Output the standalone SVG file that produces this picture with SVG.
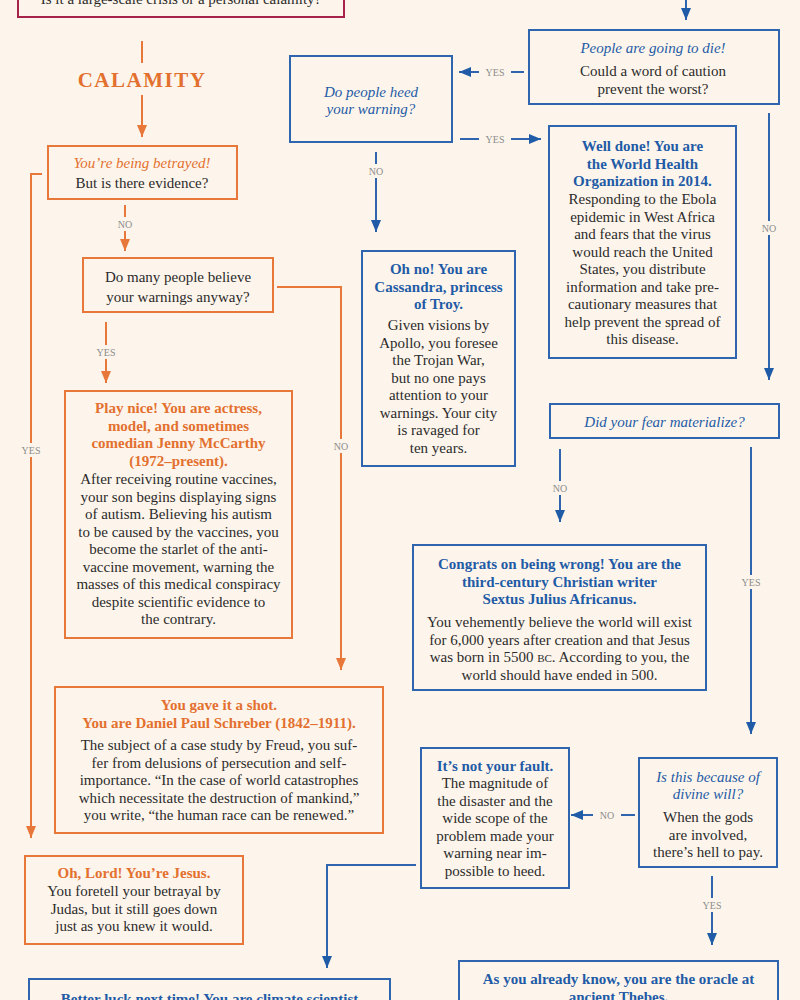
<svg xmlns="http://www.w3.org/2000/svg" width="800" height="1000" viewBox="0 0 800 1000">
<defs>
<style>
text{font-family:"Liberation Serif","Times New Roman",serif;text-anchor:middle}
.b{font-size:15px;fill:#2b2b2b}
.to{font-size:15px;font-weight:bold;fill:#E3702F}
.tb{font-size:15px;font-weight:bold;fill:#1F5BA6}
.io{font-size:15px;font-style:italic;fill:#E3702F}
.ib{font-size:15px;font-style:italic;fill:#1F5BA6}
.lbl{font-size:10px;fill:#8c8c8c}
.bo{fill:none;stroke:#E8773A;stroke-width:2}
.bb{fill:none;stroke:#2F65AF;stroke-width:2}
.co{fill:none;stroke:#E8773A;stroke-width:2}
.cb{fill:none;stroke:#2F65AF;stroke-width:2}
.lb{fill:#FDF5EB}
</style>
<marker id="ao" viewBox="0 0 12 10" refX="12" refY="5" markerWidth="12" markerHeight="10" markerUnits="userSpaceOnUse" orient="auto"><path d="M0,0 L12,5 L0,10 z" fill="#E8773A"/></marker>
<marker id="ab" viewBox="0 0 12 10" refX="12" refY="5" markerWidth="12" markerHeight="10" markerUnits="userSpaceOnUse" orient="auto"><path d="M0,0 L12,5 L0,10 z" fill="#1F5BA6"/></marker>
</defs>
<rect x="0" y="0" width="800" height="1000" fill="#FDF5EB"/>

<g id="connectors">
<path class="cb" d="M686,0 V20" marker-end="url(#ab)"/>
<path class="co" d="M142,41 V63"/>
<path class="co" d="M142,95 V137" marker-end="url(#ao)"/>
<path class="co" d="M42,174 H31 V838" marker-end="url(#ao)"/>
<path class="co" d="M125,205 V251" marker-end="url(#ao)"/>
<path class="co" d="M277,287 H341 V670" marker-end="url(#ao)"/>
<path class="co" d="M106,322 V383" marker-end="url(#ao)"/>
<path class="cb" d="M524,72 H459" marker-end="url(#ab)"/>
<path class="cb" d="M460,139 H541" marker-end="url(#ab)"/>
<path class="cb" d="M376,152 V232" marker-end="url(#ab)"/>
<path class="cb" d="M769,113 V380" marker-end="url(#ab)"/>
<path class="cb" d="M560,449 V522" marker-end="url(#ab)"/>
<path class="cb" d="M751,447 V734" marker-end="url(#ab)"/>
<path class="cb" d="M635,815 H571" marker-end="url(#ab)"/>
<path class="cb" d="M712,876 V945" marker-end="url(#ab)"/>
<path class="cb" d="M416,865 H327 V968" marker-end="url(#ab)"/>

<rect class="lb" x="17" y="443" width="28" height="14"/><text class="lbl" x="31" y="454">YES</text>
<rect class="lb" x="112" y="217" width="26" height="14"/><text class="lbl" x="125" y="228">NO</text>
<rect class="lb" x="327" y="439" width="28" height="14"/><text class="lbl" x="341" y="450">NO</text>
<rect class="lb" x="92" y="345" width="28" height="14"/><text class="lbl" x="106" y="356">YES</text>
<rect class="lb" x="479" y="65" width="32" height="14"/><text class="lbl" x="495" y="76">YES</text>
<rect class="lb" x="479" y="132" width="32" height="14"/><text class="lbl" x="495" y="143">YES</text>
<rect class="lb" x="363" y="164" width="26" height="14"/><text class="lbl" x="376" y="175">NO</text>
<rect class="lb" x="756" y="221" width="26" height="14"/><text class="lbl" x="769" y="232">NO</text>
<rect class="lb" x="547" y="481" width="26" height="14"/><text class="lbl" x="560" y="492">NO</text>
<rect class="lb" x="737" y="575" width="28" height="14"/><text class="lbl" x="751" y="586">YES</text>
<rect class="lb" x="593" y="808" width="28" height="14"/><text class="lbl" x="607" y="819">NO</text>
<rect class="lb" x="698" y="898" width="28" height="14"/><text class="lbl" x="712" y="909">YES</text>
</g>

<g id="start">
<rect x="18" y="-10" width="326" height="27" fill="none" stroke="#A8234A" stroke-width="2"/>
<text class="b" x="181" y="4" font-size="16">Is it a large-scale crisis or a personal calamity?</text>
</g>

<g id="calamity">
<text x="142" y="87" font-size="21" font-weight="bold" fill="#E3702F" letter-spacing="1.5">CALAMITY</text>
</g>

<g id="betrayed">
<rect class="bo" x="48" y="146" width="189" height="53"/>
<text class="io" x="142" y="168">You’re being betrayed!</text>
<text class="b" x="142" y="188">But is there evidence?</text>
</g>

<g id="believe">
<rect class="bo" x="83" y="258" width="190" height="54"/>
<text class="b" x="178" y="282">Do many people believe</text>
<text class="b" x="178" y="302">your warnings anyway?</text>
</g>

<g id="mccarthy">
<rect class="bo" x="65" y="391" width="227" height="247"/>
<text class="to" x="178.5" y="413">Play nice! You are actress,</text>
<text class="to" x="178.5" y="430.5">model, and sometimes</text>
<text class="to" x="178.5" y="448">comedian Jenny McCarthy</text>
<text class="to" x="178.5" y="465.5">(1972–present).</text>
<text class="b" x="178.5" y="484">After receiving routine vaccines,</text>
<text class="b" x="178.5" y="501.5">your son begins displaying signs</text>
<text class="b" x="178.5" y="519">of autism. Believing his autism</text>
<text class="b" x="178.5" y="536.5">to be caused by the vaccines, you</text>
<text class="b" x="178.5" y="554">become the starlet of the anti-</text>
<text class="b" x="178.5" y="571.5">vaccine movement, warning the</text>
<text class="b" x="178.5" y="589">masses of this medical conspiracy</text>
<text class="b" x="178.5" y="606.5">despite scientific evidence to</text>
<text class="b" x="178.5" y="624">the contrary.</text>
</g>

<g id="schreber">
<rect class="bo" x="55" y="687" width="328" height="146"/>
<text class="to" x="219" y="710">You gave it a shot.</text>
<text class="to" x="219" y="728">You are Daniel Paul Schreber (1842–1911).</text>
<text class="b" x="219" y="750">The subject of a case study by Freud, you suf-</text>
<text class="b" x="219" y="767.5">fer from delusions of persecution and self-</text>
<text class="b" x="219" y="785">importance. “In the case of world catastrophes</text>
<text class="b" x="219" y="802.5">which necessitate the destruction of mankind,”</text>
<text class="b" x="219" y="820">you write, “the human race can be renewed.”</text>
</g>

<g id="jesus">
<rect class="bo" x="25" y="856" width="218" height="88"/>
<text class="to" x="134" y="878">Oh, Lord! You’re Jesus.</text>
<text class="b" x="134" y="896">You foretell your betrayal by</text>
<text class="b" x="134" y="913.5">Judas, but it still goes down</text>
<text class="b" x="134" y="931">just as you knew it would.</text>
</g>

<g id="climate">
<rect class="bb" x="29" y="979" width="361" height="40"/>
<text class="tb" x="209.5" y="1004">Better luck next time! You are climate scientist</text>
</g>

<g id="people">
<rect class="bb" x="529" y="30" width="250" height="74"/>
<text class="ib" x="653" y="53">People are going to die!</text>
<text class="b" x="653" y="76">Could a word of caution</text>
<text class="b" x="653" y="93.5">prevent the worst?</text>
</g>

<g id="heed">
<rect class="bb" x="290" y="56" width="162" height="86"/>
<text class="ib" x="371" y="97">Do people heed</text>
<text class="ib" x="371" y="114">your warning?</text>
</g>

<g id="who">
<rect class="bb" x="549" y="126" width="187" height="232"/>
<text class="tb" x="642.5" y="151">Well done! You are</text>
<text class="tb" x="642.5" y="168.5">the World Health</text>
<text class="tb" x="642.5" y="186">Organization in 2014.</text>
<text class="b" x="642.5" y="204">Responding to the Ebola</text>
<text class="b" x="642.5" y="221.5">epidemic in West Africa</text>
<text class="b" x="642.5" y="239">and fears that the virus</text>
<text class="b" x="642.5" y="256.5">would reach the United</text>
<text class="b" x="642.5" y="274">States, you distribute</text>
<text class="b" x="642.5" y="291.5">information and take pre-</text>
<text class="b" x="642.5" y="309">cautionary measures that</text>
<text class="b" x="642.5" y="326.5">help prevent the spread of</text>
<text class="b" x="642.5" y="344">this disease.</text>
</g>

<g id="cassandra">
<rect class="bb" x="362" y="251" width="153" height="215"/>
<text class="tb" x="438.5" y="274">Oh no! You are</text>
<text class="tb" x="438.5" y="291.5">Cassandra, princess</text>
<text class="tb" x="438.5" y="309">of Troy.</text>
<text class="b" x="438.5" y="330">Given visions by</text>
<text class="b" x="438.5" y="347.5">Apollo, you foresee</text>
<text class="b" x="438.5" y="365">the Trojan War,</text>
<text class="b" x="438.5" y="382.5">but no one pays</text>
<text class="b" x="438.5" y="400">attention to your</text>
<text class="b" x="438.5" y="417.5">warnings. Your city</text>
<text class="b" x="438.5" y="435">is ravaged for</text>
<text class="b" x="438.5" y="452.5">ten years.</text>
</g>

<g id="fear">
<rect class="bb" x="550" y="404" width="229" height="34"/>
<text class="ib" x="664.5" y="427">Did your fear materialize?</text>
</g>

<g id="africanus">
<rect class="bb" x="413" y="545" width="293" height="145"/>
<text class="tb" x="559.5" y="569">Congrats on being wrong! You are the</text>
<text class="tb" x="559.5" y="586.5">third-century Christian writer</text>
<text class="tb" x="559.5" y="604">Sextus Julius Africanus.</text>
<text class="b" x="559.5" y="627">You vehemently believe the world will exist</text>
<text class="b" x="559.5" y="644.5">for 6,000 years after creation and that Jesus</text>
<text class="b" x="559.5" y="662">was born in 5500 <tspan font-size="11">BC</tspan>. According to you, the</text>
<text class="b" x="559.5" y="679.5">world should have ended in 500.</text>
</g>

<g id="fault">
<rect class="bb" x="421" y="748" width="148" height="140"/>
<text class="tb" x="495" y="771">It’s not your fault.</text>
<text class="b" x="495" y="788">The magnitude of</text>
<text class="b" x="495" y="805.5">the disaster and the</text>
<text class="b" x="495" y="823">wide scope of the</text>
<text class="b" x="495" y="840.5">problem made your</text>
<text class="b" x="495" y="858">warning near im-</text>
<text class="b" x="495" y="875.5">possible to heed.</text>
</g>

<g id="divine">
<rect class="bb" x="639" y="758" width="138" height="109"/>
<text class="ib" x="708" y="782">Is this because of</text>
<text class="ib" x="708" y="799">divine will?</text>
<text class="b" x="708" y="822">When the gods</text>
<text class="b" x="708" y="839.5">are involved,</text>
<text class="b" x="708" y="857">there’s hell to pay.</text>
</g>

<g id="oracle">
<rect class="bb" x="459" y="961" width="319" height="60"/>
<text class="tb" x="618.5" y="984">As you already know, you are the oracle at</text>
<text class="tb" x="618.5" y="1001.5">ancient Thebes.</text>
</g>
</svg>
